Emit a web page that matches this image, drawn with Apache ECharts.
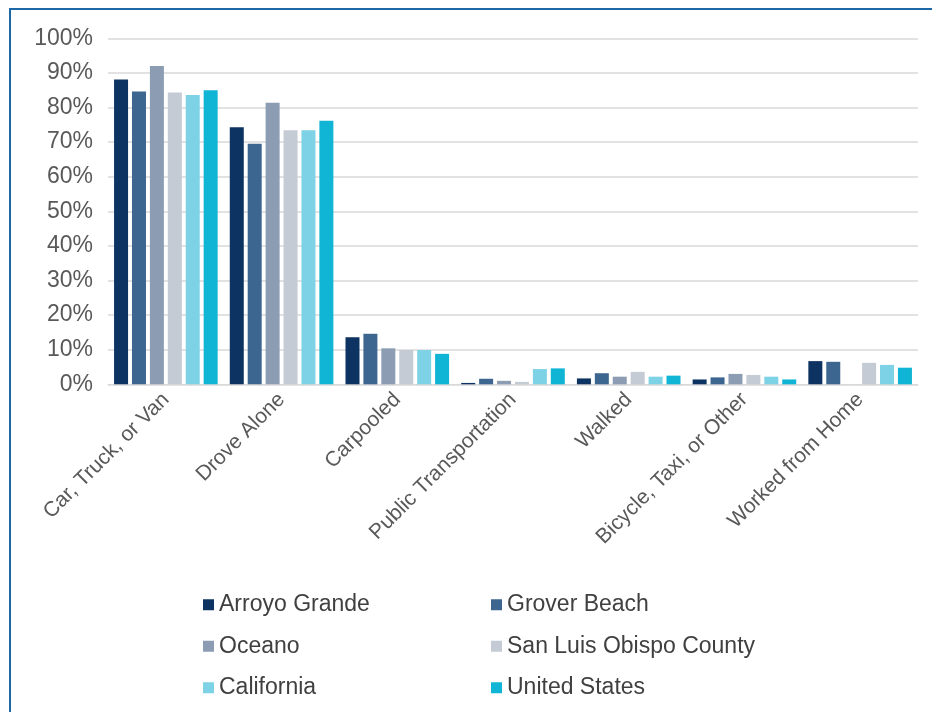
<!DOCTYPE html>
<html>
<head>
<meta charset="utf-8">
<script src="https://cdn.jsdelivr.net/npm/echarts@6/dist/echarts.min.js"></script>
<style>
  html, body { margin: 0; padding: 0; background: #fff; }
  #chart { width: 932px; height: 712px; }
</style>
</head>
<body>
<div id="chart"></div>
<script>
// Means of transportation to work (% of workers)
const categories = ['Car, Truck, or Van', 'Drove Alone', 'Carpooled', 'Public Transportation', 'Walked', 'Bicycle, Taxi, or Other', 'Worked from Home'];
const arroyoGrande   = [88.1, 74.3, 13.6, 0.4, 1.7, 1.4, 6.7];
const groverBeach    = [84.6, 69.5, 14.6, 1.6, 3.2, 2.0, 6.5];
const oceano         = [92.0, 81.4, 10.4, 1.0, 2.2, 3.0, 0.0];
const sloCounty      = [84.3, 73.4, 9.9, 0.7, 3.6, 2.7, 6.2];
const california     = [83.6, 73.4, 9.9, 4.4, 2.2, 2.2, 5.6];
const unitedStates   = [85.0, 76.2, 8.8, 4.6, 2.5, 1.4, 4.8];
const seriesNames = ['Arroyo Grande', 'Grover Beach', 'Oceano', 'San Luis Obispo County', 'California', 'United States'];
const yTicks = [0, 10, 20, 30, 40, 50, 60, 70, 80, 90, 100];

const seriesData = [arroyoGrande, groverBeach, oceano, sloCounty, california, unitedStates];
const colors = ['#0c3361', '#3c6590', '#8c9db3', '#c4cbd4', '#7dd3e5', '#10b4d5'];

const chart = echarts.init(document.getElementById('chart'), null, { renderer: 'canvas' });

chart.setOption({
  animation: false,
  backgroundColor: '#ffffff',
  color: colors,
  textStyle: { fontFamily: 'Liberation Sans, Arial, sans-serif' },
  grid: { left: 108, right: 14, top: 38.3, bottom: 327.7, containLabel: false },
  legend: {
    data: seriesNames,
    left: 198,
    top: 579,
    width: 600,
    orient: 'horizontal',
    itemGap: 0,
    itemWidth: 11,
    itemHeight: 11,
    icon: 'rect',
    textStyle: {
      fontSize: 23,
      color: '#404040',
      width: 272,
      lineHeight: 41.5,
      padding: [0, 0, 0, 0]
    }
  },
  xAxis: {
    type: 'category',
    data: categories,
    axisTick: { show: false },
    axisLine: { show: true, lineStyle: { color: '#d9d9d9', width: 1 } },
    axisLabel: {
      interval: 0,
      rotate: 45,
      margin: 12,
      fontSize: 21,
      color: '#595959'
    }
  },
  yAxis: {
    type: 'value',
    min: 0,
    max: 100,
    interval: 10,
    axisLine: { show: false },
    axisTick: { show: false },
    axisLabel: {
      formatter: v => yTicks.includes(v) ? v + '%' : '',
      fontSize: 23,
      color: '#595959',
      margin: 15
    },
    splitLine: { lineStyle: { color: '#d9d9d9', width: 1.5 } }
  },
  series: seriesNames.map((name, i) => ({
    name: name,
    type: 'bar',
    data: seriesData[i],
    barWidth: 14,
    barGap: '28%',
    itemStyle: { color: colors[i] }
  })),
  graphic: [
    {
      type: 'line',
      shape: { x1: 9, y1: 9, x2: 932, y2: 9 },
      style: { stroke: '#1e68a8', lineWidth: 2 }
    },
    {
      type: 'line',
      shape: { x1: 10, y1: 8, x2: 10, y2: 712 },
      style: { stroke: '#1e68a8', lineWidth: 2 }
    }
  ]
});
</script>
</body>
</html>
